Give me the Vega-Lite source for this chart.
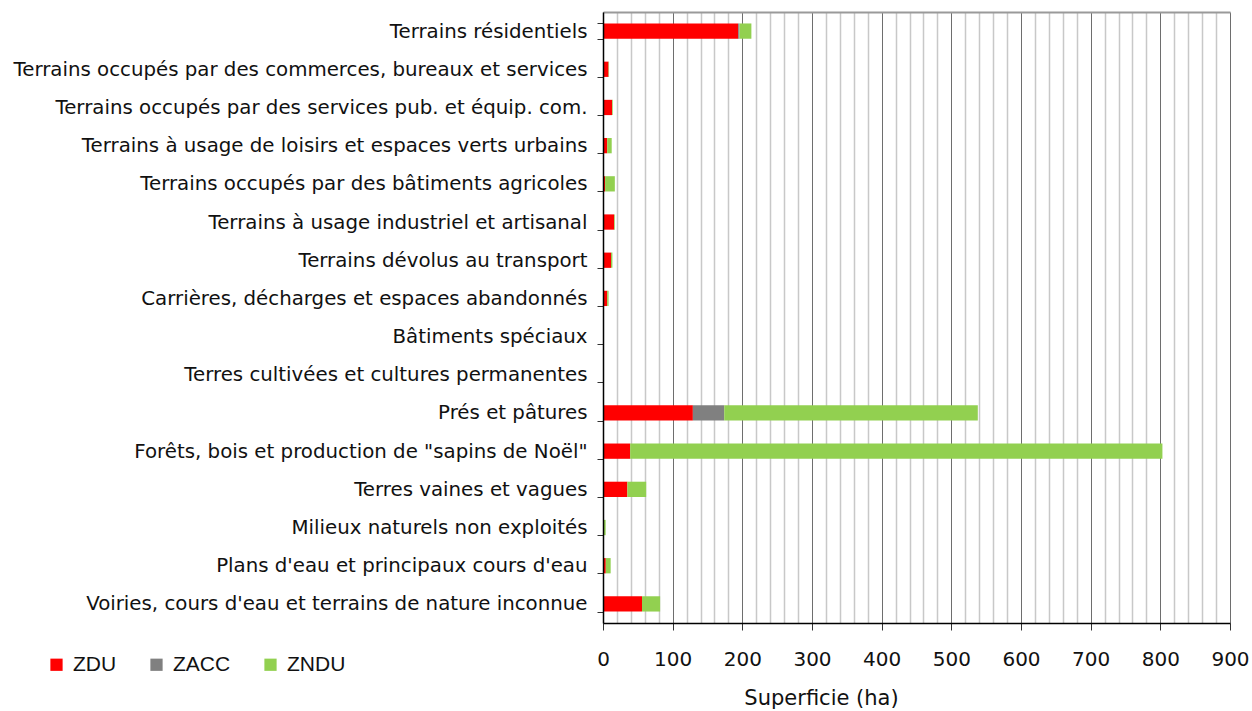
{
  "$schema": "https://vega.github.io/schema/vega-lite/v6.json",
  "width": 627,
  "height": 611,
  "autosize": {"type": "none"},
  "padding": {"left": 603, "top": 12, "right": 22, "bottom": 88},
  "background": "white",
  "config": {
    "view": {"stroke": null},
    "font": "DejaVu Sans"
  },
  "data": {
    "values": [
      {"cat": "Terrains résidentiels", "zone": "ZDU", "ha": 194},
      {"cat": "Terrains résidentiels", "zone": "ZACC", "ha": 2},
      {"cat": "Terrains résidentiels", "zone": "ZNDU", "ha": 17},
      {"cat": "Terrains occupés par des commerces, bureaux et services", "zone": "ZDU", "ha": 8},
      {"cat": "Terrains occupés par des commerces, bureaux et services", "zone": "ZNDU", "ha": 0.7},
      {"cat": "Terrains occupés par des services pub. et équip. com.", "zone": "ZDU", "ha": 13},
      {"cat": "Terrains occupés par des services pub. et équip. com.", "zone": "ZNDU", "ha": 1},
      {"cat": "Terrains à usage de loisirs et espaces verts urbains", "zone": "ZDU", "ha": 6},
      {"cat": "Terrains à usage de loisirs et espaces verts urbains", "zone": "ZNDU", "ha": 6.5},
      {"cat": "Terrains occupés par des bâtiments agricoles", "zone": "ZDU", "ha": 3},
      {"cat": "Terrains occupés par des bâtiments agricoles", "zone": "ZNDU", "ha": 14},
      {"cat": "Terrains à usage industriel et artisanal", "zone": "ZDU", "ha": 16},
      {"cat": "Terrains à usage industriel et artisanal", "zone": "ZNDU", "ha": 1},
      {"cat": "Terrains dévolus au transport", "zone": "ZDU", "ha": 11.5},
      {"cat": "Terrains dévolus au transport", "zone": "ZNDU", "ha": 2},
      {"cat": "Carrières, décharges et espaces abandonnés", "zone": "ZDU", "ha": 6},
      {"cat": "Carrières, décharges et espaces abandonnés", "zone": "ZNDU", "ha": 2},
      {"cat": "Bâtiments spéciaux", "zone": "ZDU", "ha": 0},
      {"cat": "Terres cultivées et cultures permanentes", "zone": "ZDU", "ha": 0},
      {"cat": "Prés et pâtures", "zone": "ZDU", "ha": 129},
      {"cat": "Prés et pâtures", "zone": "ZACC", "ha": 45},
      {"cat": "Prés et pâtures", "zone": "ZNDU", "ha": 364},
      {"cat": "Forêts, bois et production de \"sapins de Noël\"", "zone": "ZDU", "ha": 39},
      {"cat": "Forêts, bois et production de \"sapins de Noël\"", "zone": "ZNDU", "ha": 764},
      {"cat": "Terres vaines et vagues", "zone": "ZDU", "ha": 35},
      {"cat": "Terres vaines et vagues", "zone": "ZNDU", "ha": 27},
      {"cat": "Milieux naturels non exploités", "zone": "ZDU", "ha": 0.3},
      {"cat": "Milieux naturels non exploités", "zone": "ZNDU", "ha": 3.5},
      {"cat": "Plans d'eau et principaux cours d'eau", "zone": "ZDU", "ha": 4},
      {"cat": "Plans d'eau et principaux cours d'eau", "zone": "ZNDU", "ha": 7},
      {"cat": "Voiries, cours d'eau et terrains de nature inconnue", "zone": "ZDU", "ha": 56},
      {"cat": "Voiries, cours d'eau et terrains de nature inconnue", "zone": "ZNDU", "ha": 26}
    ]
  },
  "resolve": {"axis": {"x": "independent"}},
  "layer": [
    {
      "mark": {"type": "bar", "opacity": 0},
      "encoding": {
        "y": {"field": "cat", "type": "nominal", "sort": null},
        "x": {
          "field": "ha",
          "type": "quantitative",
          "scale": {"domain": [0, 900], "nice": false},
          "axis": {
            "orient": "top",
            "values": [20, 40, 60, 80, 120, 140, 160, 180, 220, 240, 260, 280, 320, 340, 360, 380, 420, 440, 460, 480, 520, 540, 560, 580, 620, 640, 660, 680, 720, 740, 760, 780, 820, 840, 860, 880],
            "grid": true,
            "gridColor": "#c8c8c8",
            "gridWidth": 1.5,
            "domain": true,
            "domainColor": "#9a9a9a",
            "domainWidth": 2,
            "ticks": false,
            "labels": false,
            "title": null,
            "zindex": 0
          }
        }
      }
    },
    {
      "transform": [
        {"calculate": "indexof(['ZDU','ZACC','ZNDU'], datum.zone)", "as": "ord"}
      ],
      "mark": {"type": "bar"},
      "encoding": {
        "y": {
          "field": "cat",
          "type": "nominal",
          "sort": null,
          "scale": {"paddingInner": 0.6, "paddingOuter": 0.3},
          "axis": {
            "title": null,
            "orient": "left",
            "tickBand": "extent",
            "domainColor": "#000000",
            "domainWidth": 1.5,
            "tickColor": "#333333",
            "tickSize": 6,
            "labelFont": "DejaVu Sans",
            "labelFontSize": 19.8,
            "labelColor": "#111111",
            "labelPadding": 10,
            "labelLimit": 700,
            "zindex": 1
          }
        },
        "x": {
          "field": "ha",
          "type": "quantitative",
          "stack": "zero",
          "scale": {"domain": [0, 900], "nice": false},
          "axis": {
            "orient": "bottom",
            "values": [0, 100, 200, 300, 400, 500, 600, 700, 800, 900],
            "grid": true,
            "gridColor": "#6e6e6e",
            "gridWidth": 1,
            "domainColor": "#000000",
            "domainWidth": 1.5,
            "tickColor": "#333333",
            "tickSize": 7,
            "labelFlush": false,
            "labelOverlap": false,
            "labelFont": "DejaVu Sans",
            "labelFontSize": 20,
            "labelColor": "#111111",
            "labelPadding": 19,
            "title": "Superficie (ha)",
            "titleFont": "DejaVu Sans",
            "titleFontSize": 21,
            "titleFontWeight": "normal",
            "titleColor": "#111111",
            "titleX": 218,
            "titlePadding": 18,
            "zindex": 0
          }
        },
        "order": {"field": "ord", "type": "quantitative"},
        "color": {
          "field": "zone",
          "type": "nominal",
          "sort": ["ZDU", "ZACC", "ZNDU"],
          "scale": {"domain": ["ZDU", "ZACC", "ZNDU"], "range": ["#ff0000", "#808080", "#92d050"]},
          "legend": {
            "title": null,
            "orient": "none",
            "legendX": -557,
            "legendY": 642,
            "direction": "horizontal",
            "columns": 3,
            "columnPadding": 29,
            "symbolType": "square",
            "symbolSize": 150,
            "symbolStrokeWidth": 0,
            "symbolOpacity": 1,
            "labelFont": "Liberation Sans",
            "labelFontSize": 21,
            "labelColor": "#111111",
            "labelOffset": 6
          }
        }
      }
    }
  ]
}
